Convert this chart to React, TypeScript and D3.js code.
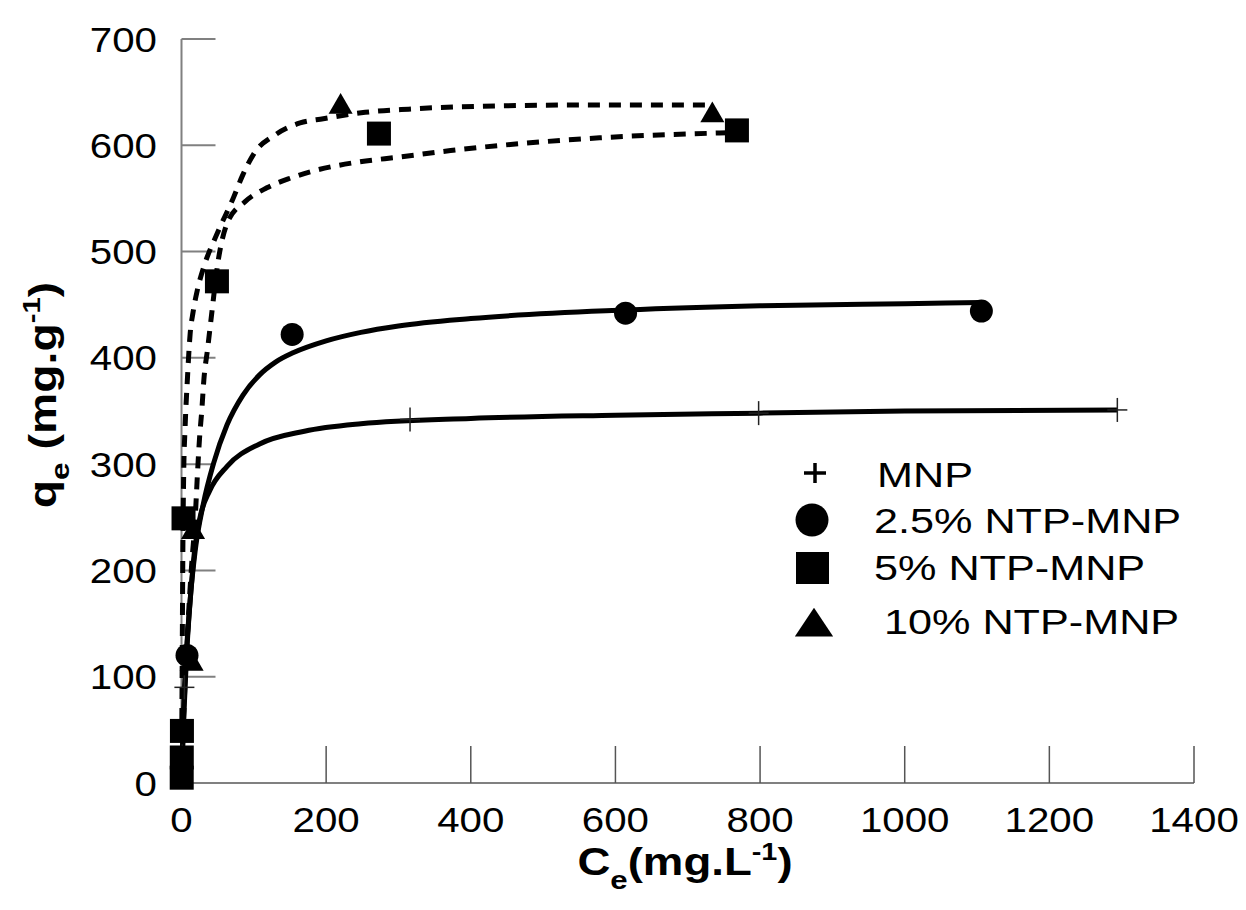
import * as d3 from "d3";

// axis ticks
const xTicks = [0, 200, 400, 600, 800, 1000, 1200, 1400];
const yTicks = [0, 100, 200, 300, 400, 500, 600, 700];

// measured points [Ce, qe]
const mnpPoints = [[1, 25], [4, 90], [316, 342], [798, 348], [1294, 351]];
const ntp25Points = [[7.6, 120], [153, 422], [614, 442], [1106, 444]];
const ntp5Points = [[0.3, 5], [0.4, 24], [0.6, 49], [2.8, 249], [49, 472], [273, 611], [768, 614]];
const ntp10Points = [[14, 114], [16, 238], [220, 638], [734, 630]];

// fitted curves
const mnpCurve = [[0, 0], [3, 70], [7, 125], [12, 172], [18, 218], [25, 248], [39, 275], [63, 298], [108, 319], [170, 331], [248, 338], [400, 343], [600, 346], [800, 348], [1000, 350], [1294, 351]];
const ntp25Curve = [[0, 0], [3, 60], [7, 120], [12, 172], [19, 219], [30, 262], [44, 300], [63, 337], [85, 365], [108, 384], [130, 396], [155, 405], [200, 416], [248, 424], [300, 430], [400, 437], [614, 445], [800, 449], [1000, 451], [1106, 452]];
const ntp5Curve = [[0, 0], [4, 80], [9, 150], [14, 205], [19, 250], [22, 290], [25, 325], [28, 350], [31, 380], [36, 408], [42, 443], [50, 488], [64, 528], [88, 547], [118, 560], [150, 569], [183, 576], [242, 584], [302, 589], [372, 595], [578, 607], [768, 612]];
const ntp10Curve = [[0, 0], [1, 120], [2, 230], [3, 290], [5, 335], [8, 378], [12, 423], [16, 443], [22, 464], [32, 488], [48, 515], [72, 551], [84, 571], [100, 592], [130, 610], [164, 621], [196, 625], [254, 631], [314, 634], [376, 636], [578, 638], [734, 638]];

const legendLabels = ["MNP", "2.5% NTP-MNP", "5% NTP-MNP", "10% NTP-MNP"];

const width = 1246;
const height = 910;
const font = "'Liberation Sans', Arial, sans-serif";
const sx = 1.15;

const App = () => {
  const x = d3.scaleLinear().domain([0, 1400]).range([181.5, 1194]);
  const y = d3.scaleLinear().domain([0, 700]).range([783, 39]);

  const line = d3
    .line<number[]>()
    .x((d) => x(d[0]))
    .y((d) => y(d[1]))
    .curve(d3.curveMonotoneX);

  const tri = d3.symbol().type(d3.symbolTriangle).size(250)();
  const triLegend = d3.symbol().type(d3.symbolTriangle).size(480)();

  const legendY = [473, 520, 568, 624];
  const legendTextY = [487, 533, 580, 634];
  const legendTextX = [877, 874, 874, 884];

  return (
    <svg width={width} height={height} style={{ position: "absolute", left: 0, top: 0, background: "#fff" }}>
      {/* axes */}
      <line x1={x(0)} x2={x(0)} y1={y(0)} y2={y(700)} stroke="#808080" strokeWidth={2} />
      <line x1={x(0)} x2={x(1400)} y1={y(0)} y2={y(0)} stroke="#808080" strokeWidth={2} />
      {yTicks.slice(1).map((t) => (
        <line key={"yt" + t} x1={x(0)} x2={x(0) + 34} y1={y(t)} y2={y(t)} stroke="#808080" strokeWidth={2} />
      ))}
      {xTicks.slice(1).map((t) => (
        <line key={"xt" + t} x1={x(t)} x2={x(t)} y1={y(0)} y2={y(0) - 37} stroke="#555" strokeWidth={1.5} />
      ))}
      {yTicks.map((t) => (
        <text key={"yl" + t} transform={`translate(157,${y(t) + 12.5}) scale(${sx},1)`} textAnchor="end" fontFamily={font} fontSize={35}>
          {t}
        </text>
      ))}
      {xTicks.map((t) => (
        <text key={"xl" + t} transform={`translate(${x(t)},832) scale(${sx},1)`} textAnchor="middle" fontFamily={font} fontSize={35}>
          {t}
        </text>
      ))}

      {/* axis titles */}
      <text transform={`translate(685,875) scale(1.2,1)`} textAnchor="middle" fontFamily={font} fontSize={38} fontWeight="bold">
        C<tspan fontSize={26} dy={14}>e</tspan>
        <tspan dy={-14}>(mg.L</tspan>
        <tspan fontSize={24} dy={-15}>-1</tspan>
        <tspan dy={15}>)</tspan>
      </text>
      <text transform={`translate(56,395) rotate(-90) scale(1.22,1)`} textAnchor="middle" fontFamily={font} fontSize={38} fontWeight="bold">
        q<tspan fontSize={26} dy={13}>e</tspan>
        <tspan dy={-13}> (mg.g</tspan>
        <tspan fontSize={24} dy={-16}>-1</tspan>
        <tspan dy={16}>)</tspan>
      </text>

      {/* fitted curves */}
      <path d={line(mnpCurve) ?? ""} fill="none" stroke="#000" strokeWidth={5} />
      <path d={line(ntp25Curve) ?? ""} fill="none" stroke="#000" strokeWidth={5} />
      <path d={line(ntp5Curve) ?? ""} fill="none" stroke="#000" strokeWidth={5} strokeDasharray="12 9" />
      <path d={line(ntp10Curve) ?? ""} fill="none" stroke="#000" strokeWidth={5} strokeDasharray="12 9" />

      {/* markers */}
      {mnpPoints.map((d, i) => (
        <g key={"p" + i} transform={`translate(${x(d[0])},${y(d[1])})`} stroke="#222" strokeWidth={1.5}>
          <line x1={-10} x2={10} y1={0} y2={0} />
          <line x1={0} x2={0} y1={-12} y2={12} />
        </g>
      ))}
      {ntp25Points.map((d, i) => (
        <circle key={"c" + i} cx={x(d[0])} cy={y(d[1])} r={11.5} fill="#000" />
      ))}
      {ntp5Points.map((d, i) => (
        <rect key={"s" + i} x={x(d[0]) - 12} y={y(d[1]) - 12} width={24} height={24} fill="#000" />
      ))}
      {ntp10Points.map((d, i) => (
        <path key={"t" + i} d={tri ?? ""} transform={`translate(${x(d[0])},${y(d[1]) + 2})`} fill="#000" />
      ))}

      {/* legend */}
      <g stroke="#000" strokeWidth={3.5}>
        <line x1={804} x2={826} y1={legendY[0]} y2={legendY[0]} />
        <line x1={815} x2={815} y1={legendY[0] - 10} y2={legendY[0] + 10} />
      </g>
      <circle cx={812} cy={legendY[1]} r={16.5} fill="#000" />
      <rect x={796} y={legendY[2] - 16} width={33} height={32} fill="#000" />
      <path d={triLegend ?? ""} transform={`translate(814,${legendY[3] + 3}) scale(1.15,1)`} fill="#000" />
      {legendLabels.map((l, i) => (
        <text key={l} transform={`translate(${legendTextX[i]},${legendTextY[i]}) scale(1.2,1)`} fontFamily={font} fontSize={36}>
          {l}
        </text>
      ))}
    </svg>
  );
};

export default App;
